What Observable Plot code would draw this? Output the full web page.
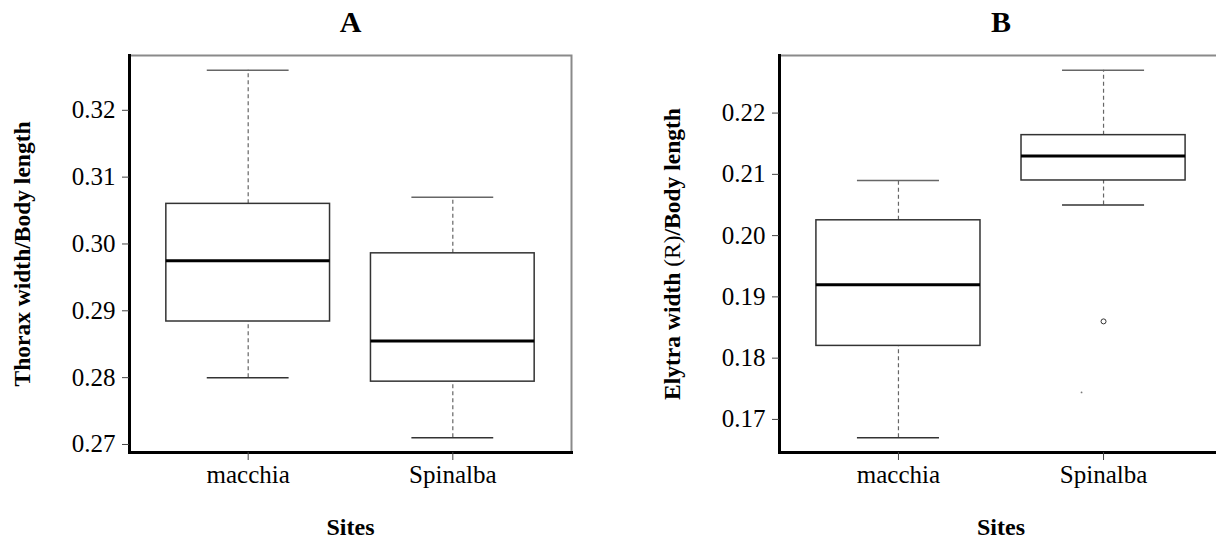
<!DOCTYPE html>
<html>
<head>
<meta charset="utf-8">
<script src="https://cdn.jsdelivr.net/npm/d3@7"></script>
<script src="https://cdn.jsdelivr.net/npm/@observablehq/plot@0.6"></script>
<style>
  html, body { margin: 0; padding: 0; background: white; overflow: hidden; }
  #wrap { display: flex; width: 1222px; height: 541px; }
  #wrap svg, #wrap svg text { font-family: "Liberation Serif", "Times New Roman", serif !important; font-variant: normal !important; }
</style>
</head>
<body>
<div id="wrap"></div>
<script>
// ---- data ----
const sites = ["macchia", "Spinalba"];

const thoraxMin    = [0.280, 0.271];
const thoraxQ1     = [0.2884, 0.2794];
const thoraxMedian = [0.2975, 0.2855];
const thoraxQ3     = [0.306, 0.2986];
const thoraxMax    = [0.326, 0.307];
const thoraxTicks  = [0.27, 0.28, 0.29, 0.30, 0.31, 0.32];

const elytraMin    = [0.167, 0.205];
const elytraQ1     = [0.182, 0.209];
const elytraMedian = [0.192, 0.213];
const elytraQ3     = [0.2025, 0.2164];
const elytraMax    = [0.209, 0.227];
const elytraTicks  = [0.17, 0.18, 0.19, 0.20, 0.21, 0.22];
const elytraOutlierSites  = ["Spinalba"];
const elytraOutlierValues = [0.186];
const elytraSpeckSites  = ["Spinalba"];
const elytraSpeckValues = [0.1744];

const xLabel = "Sites";
const thoraxLabel = "Thorax width/Body length";
const elytraLabel = "Elytra width (R)/Body length";

// ---- build ----
function makeRows(mn, q1, md, q3, mx) {
  return sites.map((s, i) => ({site: s, min: mn[i], q1: q1[i], median: md[i], q3: q3[i], max: mx[i]}));
}

function panel({title, ylabel, rows, ticks, outliers, specks, width, marginLeft, marginRight}) {
  const height = 541, marginTop = 55, marginBottom = 89;
  const all = rows.flatMap(r => [r.min, r.max]).concat(outliers.map(o => o.value));
  const lo = d3.min(all), hi = d3.max(all), pad = (hi - lo) * 0.04;
  const step = (width - marginLeft - marginRight) / 2.16;
  const stapleInset = step * 0.2;
  const font = "Liberation Serif";
  return Plot.plot({
    width, height, marginTop, marginBottom, marginLeft, marginRight,
    style: {fontFamily: font, background: "white", maxWidth: "none", overflow: "visible"},
    x: {type: "band", domain: sites, paddingInner: 0.2, paddingOuter: 0.18, round: false, axis: null},
    y: {domain: [lo - pad, hi + pad], axis: null},
    marks: [
      Plot.frame({stroke: "#8a8a8a", strokeWidth: 2}),
      Plot.frame({anchor: "left", stroke: "black", strokeWidth: 3}),
      Plot.frame({anchor: "bottom", stroke: "black", strokeWidth: 3}),
      // whiskers
      Plot.ruleX(rows, {x: "site", y1: "q3", y2: "max", stroke: "#666", strokeWidth: 1.2, strokeDasharray: "4,3"}),
      Plot.ruleX(rows, {x: "site", y1: "min", y2: "q1", stroke: "#666", strokeWidth: 1.2, strokeDasharray: "4,3"}),
      Plot.tickY(rows, {x: "site", y: "max", stroke: "#666", strokeWidth: 1.5, insetLeft: stapleInset, insetRight: stapleInset}),
      Plot.tickY(rows, {x: "site", y: "min", stroke: "#333", strokeWidth: 1.5, insetLeft: stapleInset, insetRight: stapleInset}),
      // boxes
      Plot.barY(rows, {x: "site", y1: "q1", y2: "q3", fill: "white", stroke: "#333", strokeWidth: 1.5}),
      Plot.tickY(rows, {x: "site", y: "median", stroke: "black", strokeWidth: 3}),
      // outliers
      Plot.dot(outliers, {x: "site", y: "value", r: 2.5, stroke: "#333", strokeWidth: 1, fill: "white"}),
      Plot.dot(specks, {x: "site", y: "value", r: 0.9, fill: "#777", stroke: "none", dx: -22}),
      // axes
      Plot.axisY({ticks, tickFormat: d3.format(".2f"), tickSize: 7, tickPadding: 7, fontSize: 25, fontFamily: font, stroke: "#444", fill: "black", label: null}),
      Plot.axisX({tickSize: 8, tickPadding: 5, fontSize: 25, fontFamily: font, stroke: "#444", fill: "black", label: null}),
      // texts
      Plot.text([title], {frameAnchor: "top", lineAnchor: "middle", dy: -33, fontSize: 30, fontWeight: "bold", fontFamily: font, fill: "black"}),
      Plot.text([xLabel], {frameAnchor: "bottom", lineAnchor: "middle", dy: 75, fontSize: 24, fontWeight: "bold", fontFamily: font, fill: "black"}),
      Plot.text([ylabel], {frameAnchor: "left", textAnchor: "middle", lineAnchor: "middle", dx: -107, rotate: -90, fontSize: 23.5, fontWeight: "bold", fontFamily: font, fill: "black"})
    ]
  });
}

const wrap = document.getElementById("wrap");

const A = panel({
  title: "A", ylabel: thoraxLabel,
  rows: makeRows(thoraxMin, thoraxQ1, thoraxMedian, thoraxQ3, thoraxMax),
  ticks: thoraxTicks, outliers: [], specks: [],
  width: 608, marginLeft: 129, marginRight: 37
});
const B = panel({
  title: "B", ylabel: elytraLabel,
  rows: makeRows(elytraMin, elytraQ1, elytraMedian, elytraQ3, elytraMax),
  ticks: elytraTicks,
  outliers: elytraOutlierSites.map((s, i) => ({site: s, value: elytraOutlierValues[i]})),
  specks: elytraSpeckSites.map((s, i) => ({site: s, value: elytraSpeckValues[i]})),
  width: 614, marginLeft: 171, marginRight: 0
});
wrap.appendChild(A);
wrap.appendChild(B);

// mixed-weight label for panel B: "(R)" in regular weight
d3.select(B).selectAll("text").each(function() {
  if (this.textContent === elytraLabel) {
    const t = d3.select(this);
    const parts = elytraLabel.split(/(\(R\))/);
    t.text(null);
    parts.forEach(p => {
      if (!p) return;
      t.append("tspan").attr("font-weight", p === "(R)" ? "normal" : "bold").text(p);
    });
  }
});
</script>
</body>
</html>
